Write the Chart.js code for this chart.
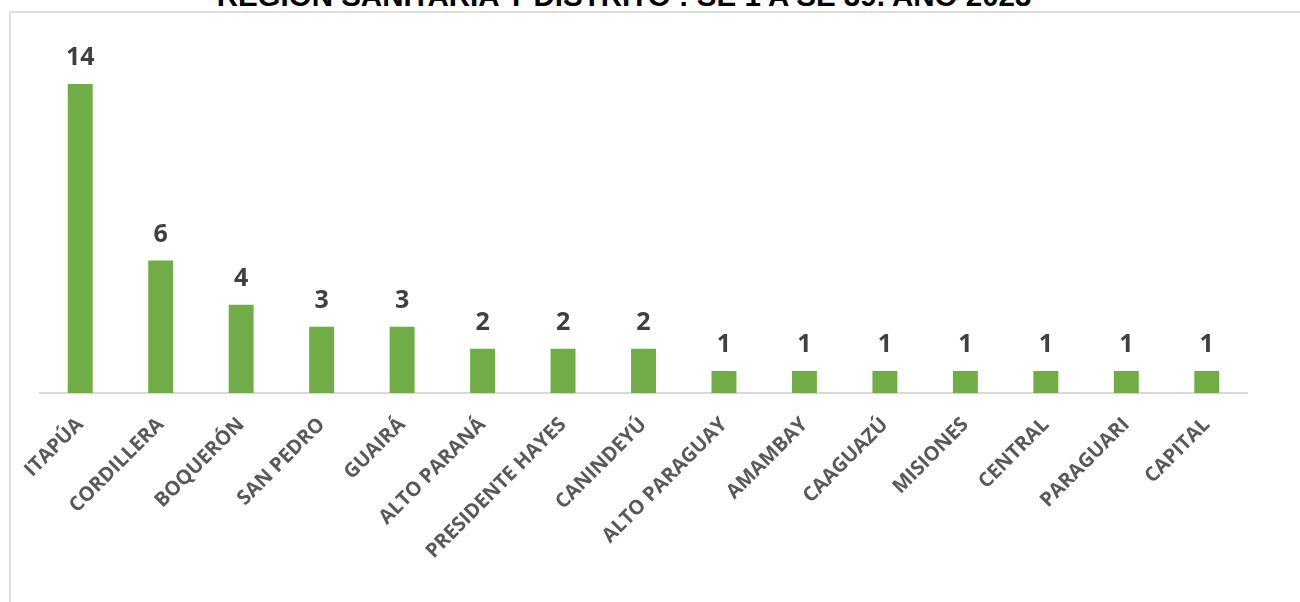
<!DOCTYPE html>
<html>
<head>
<meta charset="utf-8">
<script src="https://cdn.jsdelivr.net/npm/chart.js@4.4.1/dist/chart.umd.min.js"></script>
<style>
  html, body { margin: 0; padding: 0; background: #fff; overflow: hidden; }
  #wrap { position: relative; width: 1300px; height: 602px; }
  #frame {
    position: absolute; left: 9px; top: 11px; width: 1400px; height: 700px;
    border: 2px solid #dedede; box-sizing: border-box;
  }
  #title {
    position: absolute; left: 0; width: 1248px; top: -20px;
    text-align: center; font: bold 29.5px "Liberation Sans", Arial, sans-serif;
    color: #000; line-height: 32px; white-space: nowrap;
  }
  canvas { position: absolute; left: 0; top: 0; }
</style>
</head>
<body>
<div id="wrap">
  <div id="frame"></div>
  <div id="title">REGIÓN SANITARIA Y DISTRITO : SE 1 A SE 39. AÑO 2023</div>
  <canvas id="chart" width="1300" height="602"></canvas>
</div>
<script>
// ─────────────────────────────────────────────────────────────
// DATA
// ─────────────────────────────────────────────────────────────
const regiones = [
  'ITAPÚA', 'CORDILLERA', 'BOQUERÓN', 'SAN PEDRO', 'GUAIRÁ',
  'ALTO PARANÁ', 'PRESIDENTE HAYES', 'CANINDEYÚ', 'ALTO PARAGUAY',
  'AMAMBAY', 'CAAGUAZÚ', 'MISIONES', 'CENTRAL', 'PARAGUARI', 'CAPITAL'
];
const casos = [14, 6, 4, 3, 3, 2, 2, 2, 1, 1, 1, 1, 1, 1, 1];

// ─────────────────────────────────────────────────────────────
// PLUGIN: value labels above bars
// ─────────────────────────────────────────────────────────────
const valueLabels = {
  id: 'valueLabels',
  afterDatasetsDraw(chart) {
    const ctx = chart.ctx;
    const meta = chart.getDatasetMeta(0);
    ctx.save();
    ctx.font = 'bold 25px "Open Sans", sans-serif';
    ctx.fillStyle = '#404040';
    ctx.textAlign = 'center';
    ctx.textBaseline = 'alphabetic';
    meta.data.forEach((bar, i) => {
      ctx.fillText(String(casos[i]), bar.x, bar.y - 19);
    });
    ctx.restore();
  }
};

// ─────────────────────────────────────────────────────────────
// CHART
// ─────────────────────────────────────────────────────────────
new Chart(document.getElementById('chart'), {
  type: 'bar',
  data: {
    labels: regiones,
    datasets: [{
      data: casos,
      backgroundColor: '#70ad47',
      borderWidth: 0,
      categoryPercentage: 1,
      barPercentage: 0.31,
    }]
  },
  options: {
    responsive: false,
    animation: false,
    layout: { padding: { top: 84, left: 40, right: 53, bottom: 0 } },
    plugins: {
      legend: { display: false },
      tooltip: { enabled: false },
      title: { display: false },
    },
    scales: {
      x: {
        grid: { display: false, drawTicks: false },
        border: { display: true, color: '#d9d9d9', width: 2 },
        ticks: {
          autoSkip: false,
          minRotation: 45,
          maxRotation: 45,
          padding: 20,
          color: '#595959',
          font: { family: "'Open Sans', sans-serif", size: 20, weight: 'bold' },
        },
        afterFit(scale) {
          scale.height = 209;
          scale.paddingLeft = 0;
          scale.paddingRight = 0;
        }
      },
      y: {
        display: false,
        min: 0,
        max: 14,
      }
    }
  },
  plugins: [valueLabels]
});
</script>
</body>
</html>
